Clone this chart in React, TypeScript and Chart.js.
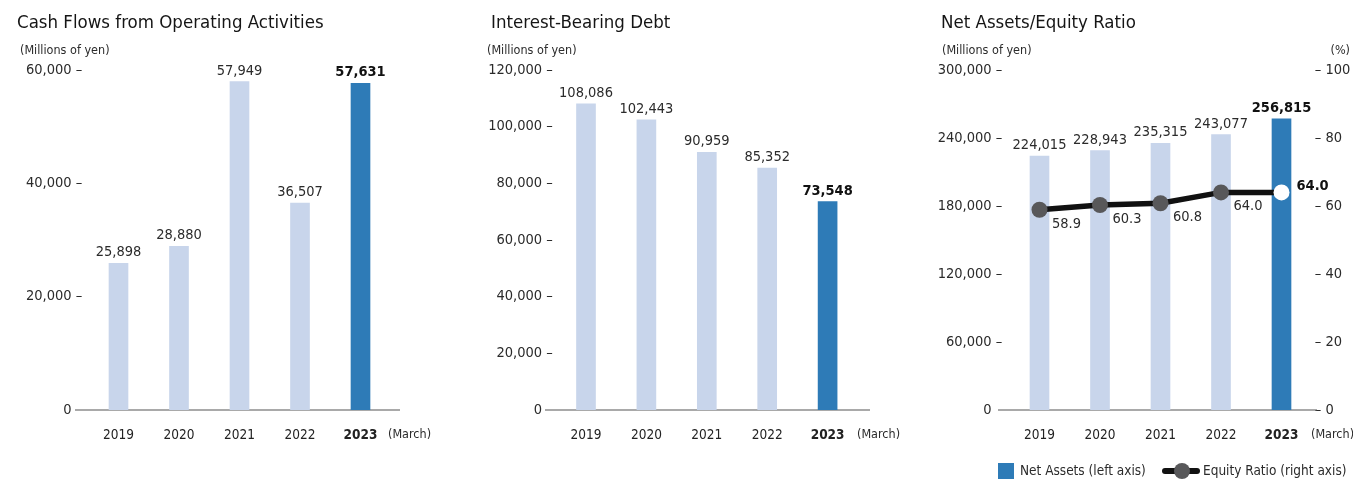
import React, { useEffect, useRef } from 'react';
import { Chart, registerables } from 'chart.js';

Chart.register(...registerables);

const FONT = "'DejaVu Sans Condensed', 'Liberation Sans Narrow', 'Arial Narrow', sans-serif";

// ---- data ----
const years = ['2019', '2020', '2021', '2022', '2023'];
const cashFlows = [25898, 28880, 57949, 36507, 57631];
const interestDebt = [108086, 102443, 90959, 85352, 73548];
const netAssets = [224015, 228943, 235315, 243077, 256815];
const equityRatio = [58.9, 60.3, 60.8, 64.0, 64.0];

const cashAxis = { min: 0, max: 60000, step: 20000 };
const debtAxis = { min: 0, max: 120000, step: 20000 };
const assetsAxis = { min: 0, max: 300000, step: 60000 };
const ratioAxis = { min: 0, max: 100, step: 20 };

const LIGHT = '#c8d5eb';
const DARK = '#2e7bb7';
const TEXT = '#2b2b2b';
const NUM_SIZE = 14.5;

const fmt = (v: number) => v.toLocaleString('en-US');

const barColors = (n: number) => Array.from({ length: n }, (_, i) => (i === n - 1 ? DARK : LIGHT));

const baselinePlugin = {
  id: 'baseline',
  beforeDatasetsDraw(chart: any, _a: any, opts: any) {
    const { ctx, chartArea } = chart;
    const y = chart.scales.y.getPixelForValue(0);
    ctx.save();
    ctx.strokeStyle = '#555';
    ctx.lineWidth = 1.2;
    ctx.beginPath();
    ctx.moveTo(chartArea.left - (opts.extL || 0), y);
    ctx.lineTo(chartArea.right + (opts.extR || 0), y);
    ctx.stroke();
    ctx.restore();
  },
};

const valueLabelPlugin = {
  id: 'valueLabels',
  afterDatasetsDraw(chart: any) {
    const { ctx } = chart;
    ctx.save();
    chart.data.datasets.forEach((ds: any, di: number) => {
      const meta = chart.getDatasetMeta(di);
      const n = ds.data.length;
      meta.data.forEach((el: any, i: number) => {
        const last = i === n - 1;
        ctx.font = `${last ? 'bold ' : ''}${NUM_SIZE}px ${FONT}`;
        ctx.fillStyle = last ? '#111' : TEXT;
        if (meta.type === 'bar') {
          ctx.textAlign = 'center';
          ctx.textBaseline = 'alphabetic';
          ctx.fillText(fmt(ds.data[i]), el.x, el.y - 7);
        } else if (meta.type === 'line') {
          ctx.textBaseline = 'middle';
          const txt = Number(ds.data[i]).toFixed(1);
          if (last) {
            ctx.textAlign = 'left';
            ctx.fillText(txt, el.x + 15, el.y - 6);
          } else {
            ctx.textAlign = 'center';
            ctx.fillText(txt, el.x + 27, el.y + 14);
          }
        }
      });
    });
    ctx.restore();
  },
};

type Axis = { min: number; max: number; step: number };

function yScale(axis: Axis, width: number, pad: number, position: 'left' | 'right', right = false) {
  return {
    type: 'linear',
    position,
    min: axis.min,
    max: axis.max,
    grid: { display: false, drawTicks: false },
    border: { display: false },
    afterFit: (s: any) => {
      s.width = width;
    },
    afterBuildTicks: (s: any) => {
      const t = [];
      for (let v = axis.min; v <= axis.max; v += axis.step) t.push({ value: v });
      s.ticks = t;
    },
    ticks: {
      padding: pad,
      color: TEXT,
      font: { family: FONT, size: NUM_SIZE },
      callback: (v: number) => {
        if (right) return '– ' + fmt(v);
        return v === 0 ? '0 \u2002' : fmt(v) + ' –';
      },
    },
  };
}

const xScale = {
  type: 'category',
  offset: true,
  grid: { display: false, drawTicks: false },
  border: { display: false },
  afterFit: (s: any) => {
    s.height = 73;
  },
  ticks: {
    padding: 17,
    color: '#222',
    font: (c: any) => ({ family: FONT, size: 13.5, weight: c.index === years.length - 1 ? 'bold' : 'normal' }),
  },
};

type PanelProps = {
  left: number;
  width: number;
  config: any;
};

function ChartCanvas({ left, width, config }: PanelProps) {
  const ref = useRef<HTMLCanvasElement>(null);
  useEffect(() => {
    const chart = new Chart(ref.current as HTMLCanvasElement, config);
    return () => chart.destroy();
  }, []);
  return (
    <canvas
      ref={ref}
      width={width}
      height={483}
      style={{ position: 'absolute', left, top: 0, width, height: 483 }}
    />
  );
}

function Txt({ x, y, size, text, bold, align, color }: { x: number; y: number; size: number; text: string; bold?: boolean; align?: 'left' | 'right'; color?: string }) {
  return (
    <div
      style={{
        position: 'absolute',
        left: align === 'right' ? undefined : x,
        right: align === 'right' ? 1353 - x : undefined,
        top: y,
        transform: 'translateY(-50%)',
        fontFamily: FONT,
        fontSize: size,
        fontWeight: bold ? 'bold' : 'normal',
        color: color || TEXT,
        whiteSpace: 'nowrap',
        lineHeight: 1,
      }}
    >
      {text}
    </div>
  );
}

const common = {
  responsive: false,
  animation: false,
  devicePixelRatio: 1,
  events: [],
  plugins: { legend: { display: false }, tooltip: { enabled: false } },
};

const cashConfig = {
  type: 'bar',
  data: {
    labels: years,
    datasets: [{ data: cashFlows, backgroundColor: barColors(cashFlows.length), barThickness: 19 }],
  },
  options: {
    ...common,
    layout: { padding: { left: 0, right: 69.25, top: 70, bottom: 0 } },
    scales: { x: xScale, y: yScale(cashAxis, 88.25, 6, 'left') },
    plugins: { ...common.plugins, baseline: { extL: 13.25, extR: 9.25 } },
  },
  plugins: [baselinePlugin, valueLabelPlugin],
};

const debtConfig = {
  type: 'bar',
  data: {
    labels: years,
    datasets: [{ data: interestDebt, backgroundColor: barColors(interestDebt.length), barThickness: 19 }],
  },
  options: {
    ...common,
    layout: { padding: { left: 0, right: 62.2, top: 70, bottom: 0 } },
    scales: { x: xScale, y: yScale(debtAxis, 95.8, 3, 'left') },
    plugins: { ...common.plugins, baseline: { extL: 10.8, extR: 12.2 } },
  },
  plugins: [baselinePlugin, valueLabelPlugin],
};

const assetsConfig = {
  type: 'bar',
  data: {
    labels: years,
    datasets: [
      {
        type: 'line',
        data: equityRatio,
        yAxisID: 'y2',
        borderColor: '#111',
        borderWidth: 5.5,
        pointRadius: 8,
        pointBorderWidth: 0,
        pointBackgroundColor: equityRatio.map((_, i) => (i === equityRatio.length - 1 ? '#ffffff' : '#58585a')),
        order: 1,
      },
      {
        type: 'bar',
        data: netAssets,
        yAxisID: 'y',
        backgroundColor: barColors(netAssets.length),
        barThickness: 19,
        order: 2,
      },
    ],
  },
  options: {
    ...common,
    layout: { padding: { left: 0, right: 0, top: 70, bottom: 0 } },
    scales: {
      x: xScale,
      y: yScale(assetsAxis, 89.25, 7, 'left'),
      y2: yScale(ratioAxis, 41.25, 3, 'right', true),
    },
    plugins: { ...common.plugins, baseline: { extL: 11.25, extR: 5.25 } },
  },
  plugins: [baselinePlugin, valueLabelPlugin],
};

export default function App() {
  return (
    <div style={{ position: 'absolute', left: 0, top: 0, width: 1353, height: 483, background: '#fff', overflow: 'hidden' }}>
      <ChartCanvas left={0} width={460} config={cashConfig} />
      <ChartCanvas left={460} width={460} config={debtConfig} />
      <ChartCanvas left={920} width={433} config={assetsConfig} />

      <Txt x={17} y={22} size={18.5} color="#151515" text="Cash Flows from Operating Activities" />
      <Txt x={20} y={50} size={12.5} text="(Millions of yen)" />
      <Txt x={388} y={434} size={12.5} text="(March)" />

      <Txt x={491} y={22} size={18.5} color="#151515" text="Interest-Bearing Debt" />
      <Txt x={487} y={50} size={12.5} text="(Millions of yen)" />
      <Txt x={857} y={434} size={12.5} text="(March)" />

      <Txt x={941} y={22} size={18.5} color="#151515" text="Net Assets/Equity Ratio" />
      <Txt x={942} y={50} size={12.5} text="(Millions of yen)" />
      <Txt x={1350} y={50} size={12.5} text="(%)" align="right" />
      <Txt x={1311} y={434} size={12.5} text="(March)" />

      <div style={{ position: 'absolute', left: 998, top: 463, width: 16, height: 16, background: DARK }} />
      <Txt x={1020} y={471} size={13.5} text="Net Assets (left axis)" />
      <div style={{ position: 'absolute', left: 1162, top: 468, width: 38, height: 6, borderRadius: 3, background: '#111' }} />
      <div style={{ position: 'absolute', left: 1174, top: 463, width: 16, height: 16, borderRadius: 8, background: '#58585a' }} />
      <Txt x={1203} y={471} size={13.5} text="Equity Ratio (right axis)" />
    </div>
  );
}
